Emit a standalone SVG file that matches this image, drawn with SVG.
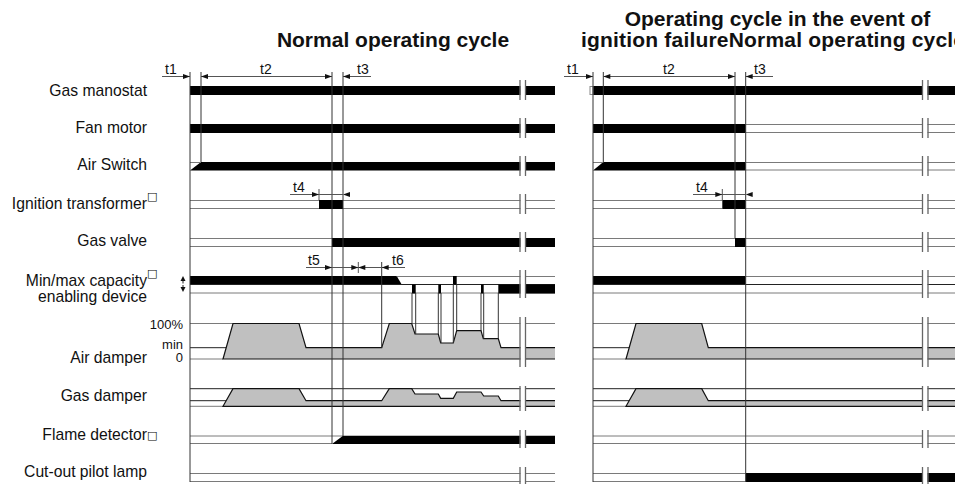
<svg xmlns="http://www.w3.org/2000/svg" width="955" height="484" viewBox="0 0 955 484">
<style>
text{font-family:"Liberation Sans",Arial,Helvetica,sans-serif;fill:#111}
.lbl{font-size:15.7px;text-anchor:end}
.sc{font-size:13px;text-anchor:end}
.ttl{font-size:21px;font-weight:bold}
.tl{font-size:14px}
.box{font-family:"DejaVu Sans",sans-serif;font-size:11px;fill:#000}
.on{fill:#000}
.off{stroke:#7a7a7a;stroke-width:1;fill:none}
.dk{stroke:#222;stroke-width:1;fill:none}
.vl{stroke:#333;stroke-width:1;fill:none}
.dm{stroke:#555;stroke-width:1;fill:none}
.damp{fill:#c0c0c0;stroke:#111;stroke-width:1.2}
.bw{fill:#fff}
.bl{stroke:#666;stroke-width:1.3;fill:none}
</style>
<defs>
<path id="ar" d="M0,0 L-7,-2.5 L-7,2.5 Z" fill="#111"/>
</defs>

<g id="titles">
<text class="ttl" x="393" y="47" text-anchor="middle">Normal operating cycle</text>
<text class="ttl" x="777.5" y="26" text-anchor="middle">Operating cycle in the event of</text>
<text class="ttl" x="581" y="47" textLength="384" lengthAdjust="spacing">ignition failureNormal operating cycle</text>
</g>

<g id="labels">
<text class="lbl" x="147" y="96">Gas manostat</text>
<text class="lbl" x="147" y="133">Fan motor</text>
<text class="lbl" x="147" y="170">Air Switch</text>
<text class="lbl" x="147" y="208.5">Ignition transformer</text>
<text class="box" x="147" y="200">□</text>
<text class="lbl" x="147" y="286">Min/max capacity</text>
<text class="box" x="147" y="277">□</text>
<text class="lbl" x="147" y="302">enabling device</text>
<text class="lbl" x="147" y="246">Gas valve</text>
<text class="lbl" x="147" y="362.7">Air damper</text>
<text class="lbl" x="147" y="400.7">Gas damper</text>
<text class="lbl" x="147" y="440">Flame detector</text>
<text class="box" x="147" y="439">□</text>
<text class="lbl" x="147" y="476.7">Cut-out pilot lamp</text>
<text class="sc" x="183" y="329">100%</text>
<text class="sc" x="183" y="348.5">min</text>
<text class="sc" x="183" y="361.5">0</text>
<polygon points="183,276 180.5,281 185.5,281" fill="#111"/>
<polygon points="180.5,287 185.5,287 183,292" fill="#111"/>
<path d="M183,281V283.5M183,285V287" class="dk"/>
</g>

<g id="row-gas-manostat">
<rect class="on" x="190" y="86" width="365" height="9"/>
<rect class="on" x="593" y="86" width="362" height="9"/>
<rect x="590" y="86.5" width="3" height="8" fill="none" stroke="#888"/>
</g>

<g id="row-fan-motor">
<rect class="on" x="190" y="124" width="365" height="9"/>
<rect class="on" x="593" y="124" width="152.7" height="9"/>
<path class="off" d="M745.7,124.5H955M745.7,132.5H955"/>
</g>

<g id="row-air-switch">
<polygon class="on" points="190,170.5 201,162 555,162 555,170.5"/>
<path class="off" d="M190,162.5H201"/>
<polygon class="on" points="593,170.5 603.3,162 745.7,162 745.7,170.5"/>
<path class="off" d="M593,162.5H603.3M745.7,162.5H955M745.7,170H955"/>
</g>

<g id="row-ignition-transformer">
<path class="off" d="M190,200.5H319M190,208.5H319M343,200.5H555M343,208.5H555"/>
<rect class="on" x="319" y="200" width="24" height="9"/>
<path class="off" d="M593,200.5H722.3M593,208.5H722.3M745.7,200.5H955M745.7,208.5H955"/>
<rect class="on" x="722.3" y="200" width="23.4" height="9"/>
</g>

<g id="row-gas-valve">
<path class="off" d="M190,238.5H332M190,246.5H332"/>
<rect class="on" x="332" y="238" width="223" height="9"/>
<path class="off" d="M593,238.5H735M593,246.5H735M745.7,238.5H955M745.7,246.5H955"/>
<rect class="on" x="735" y="238" width="10.7" height="9"/>
</g>

<g id="row-capacity-device">
<polygon class="on" points="190,276 396.7,276 401.7,284.5 190,284.5"/>
<path class="off" d="M396.7,276.5H555M190,293H555"/>
<path class="dk" d="M190,284.5H555"/>
<rect class="on" x="453" y="276" width="3.7" height="8.5"/>
<rect class="on" x="412" y="284.5" width="3.7" height="9"/>
<rect class="on" x="438.3" y="284.5" width="2.7" height="9"/>
<rect class="on" x="481" y="284.5" width="2.7" height="9"/>
<rect class="on" x="498.3" y="284.5" width="56.7" height="9"/>
<rect class="on" x="593" y="276" width="152.7" height="8.5"/>
<path class="off" d="M745.7,276.5H955M593,293H955"/>
<path class="dk" d="M593,284.5H955"/>
</g>

<g id="row-air-damper">
<path class="off" d="M190,323.5H555M190,359H223"/>
<path class="dk" d="M190,347.7H226.2"/>
<path class="damp" d="M555,359 L223,359 L233,323.5 L299,323.5 L306,347.7 L381.7,347.7 L389.3,323.5 L411.7,323.5 L415,334 L438.3,334 L440.7,343 L453.3,343 L456.7,330.7 L481,330.7 L483.3,338.7 L498.3,338.7 L501,347.7 L555,347.7"/>
<path class="off" d="M593,323.5H955M593,359H626"/>
<path class="dk" d="M593,347.7H629.2"/>
<path class="damp" d="M955,359 L626,359 L636,323.5 L701.7,323.5 L708.3,347.7 L955,347.7"/>
</g>

<g id="row-gas-damper">
<path class="dk" d="M190,388.7H555M190,400.7H226.2"/>
<path class="off" d="M190,406.3H223"/>
<path class="damp" d="M555,406.3 L223,406.3 L233,388.7 L299,388.7 L306,400.7 L381.7,400.7 L389.3,388.7 L411.7,388.7 L415,394 L438.3,394 L440.7,398.3 L453.3,398.3 L456.7,392 L481,392 L483.7,396 L498.3,396 L501,400.7 L555,400.7"/>
<path class="dk" d="M593,388.7H955M593,400.7H629.2"/>
<path class="off" d="M593,406.3H626"/>
<path class="damp" d="M955,406.3 L626,406.3 L636,388.7 L701.7,388.7 L708.3,400.7 L955,400.7"/>
</g>

<g id="row-flame-detector">
<path class="off" d="M190,436H343M190,443.5H332"/>
<polygon class="on" points="332,444 343,435.7 555,435.7 555,444"/>
<path class="off" d="M593,436H955M593,443.5H955"/>
</g>

<g id="row-cutout-lamp">
<path class="off" d="M190,473.5H555M190,481.5H555"/>
<path class="off" d="M593,473.5H745.7M593,481.5H745.7"/>
<rect class="on" x="745.7" y="473" width="209.3" height="9"/>
</g>

<g id="connectors">
<path class="vl" d="M190,72V482M201,72V162M332,72V444M343,72V436M381.7,262V347.7"/>
<path class="vl" d="M412,293V323.5M415.7,293V334M438.3,293V334M441,293V343M453.3,284.5V343M456.7,284.5V330.7M481,293V330.7M483.7,293V338.7M498.3,293V338.7"/>
<path class="vl" d="M593,72V482M603.3,72V162M735,72V238M745.7,72V482"/>
<path class="dm" d="M162,76.5H190M201,76.5H332M343,76.5H371M564,76.5H593M603.3,76.5H735M745.7,76.5H773"/>
<path class="dm" d="M290,194.5H343M319,189V200M693,194.5H745.7M722.3,189V200M306,267.5H405M358.3,262V273"/>
<use href="#ar" transform="translate(190,76.5)"/>
<use href="#ar" transform="translate(201,76.5) scale(-1,1)"/>
<use href="#ar" transform="translate(332,76.5)"/>
<use href="#ar" transform="translate(343,76.5) scale(-1,1)"/>
<use href="#ar" transform="translate(593,76.5)"/>
<use href="#ar" transform="translate(603.3,76.5) scale(-1,1)"/>
<use href="#ar" transform="translate(735,76.5)"/>
<use href="#ar" transform="translate(745.7,76.5) scale(-1,1)"/>
<use href="#ar" transform="translate(319,194.5)"/>
<use href="#ar" transform="translate(343,194.5) scale(-1,1)"/>
<use href="#ar" transform="translate(722.3,194.5)"/>
<use href="#ar" transform="translate(745.7,194.5) scale(-1,1)"/>
<use href="#ar" transform="translate(332,267.5)"/>
<use href="#ar" transform="translate(358.3,267.5)"/>
<use href="#ar" transform="translate(358.3,267.5) scale(-1,1)"/>
<use href="#ar" transform="translate(381.7,267.5) scale(-1,1)"/>
<text class="tl" x="165" y="74">t1</text>
<text class="tl" x="260" y="74">t2</text>
<text class="tl" x="357" y="74">t3</text>
<text class="tl" x="567" y="74">t1</text>
<text class="tl" x="663" y="74">t2</text>
<text class="tl" x="754" y="74">t3</text>
<text class="tl" x="293" y="192">t4</text>
<text class="tl" x="696" y="192">t4</text>
<text class="tl" x="308" y="265">t5</text>
<text class="tl" x="392" y="265">t6</text>
</g>

<g id="breaks">
<path class="bw" d="M520.5,80h4.5v20h-4.5zM520.5,118h4.5v20h-4.5zM520.5,156h4.5v20h-4.5zM520.5,194h4.5v20h-4.5zM520.5,232h4.5v20h-4.5zM520.5,270h4.5v28h-4.5zM520.5,317h4.5v50h-4.5zM520.5,386h4.5v25h-4.5zM520.5,430h4.5v18h-4.5zM520.5,467h4.5v17h-4.5z"/>
<path class="bl" d="M520,80V100M525.5,80V100M520,118V138M525.5,118V138M520,156V176M525.5,156V176M520,194V214M525.5,194V214M520,232V252M525.5,232V252M520,270V298M525.5,270V298M520,317V367M525.5,317V367M520,386V411M525.5,386V411M520,430V448M525.5,430V448M520,467V484M525.5,467V484"/>
<path class="bw" d="M923,80h4.5v20h-4.5zM923,118h4.5v20h-4.5zM923,156h4.5v20h-4.5zM923,194h4.5v20h-4.5zM923,232h4.5v20h-4.5zM923,270h4.5v28h-4.5zM923,317h4.5v50h-4.5zM923,386h4.5v25h-4.5zM923,430h4.5v18h-4.5zM923,467h4.5v17h-4.5z"/>
<path class="bl" d="M922.5,80V100M928,80V100M922.5,118V138M928,118V138M922.5,156V176M928,156V176M922.5,194V214M928,194V214M922.5,232V252M928,232V252M922.5,270V298M928,270V298M922.5,317V367M928,317V367M922.5,386V411M928,386V411M922.5,430V448M928,430V448M922.5,467V484M928,467V484"/>
</g>
</svg>
